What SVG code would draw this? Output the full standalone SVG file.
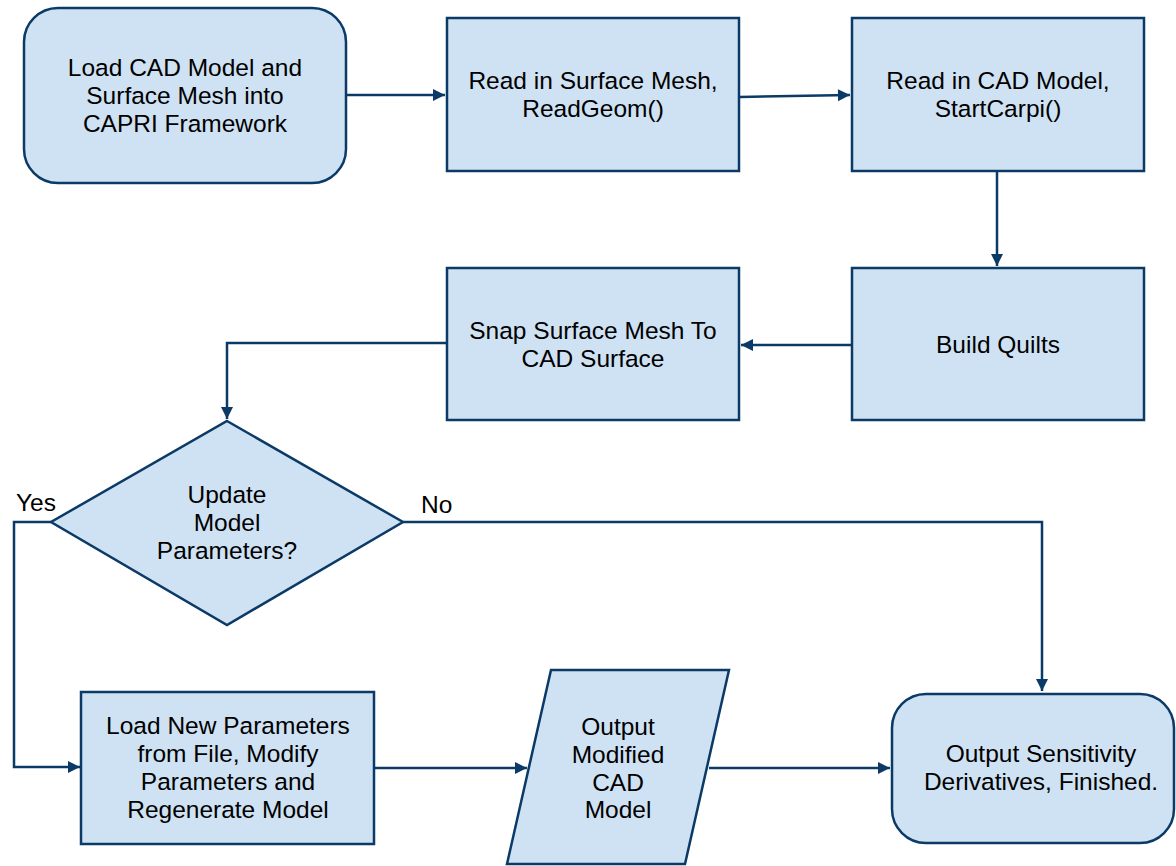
<svg xmlns="http://www.w3.org/2000/svg" width="1176" height="866" viewBox="0 0 1176 866">
<style>
.n{fill:#cfe2f3;stroke:#0b3a66;stroke-width:2.5}
.t{font-family:"Liberation Sans",Arial,sans-serif;font-size:24.5px;fill:#000;text-anchor:middle}
.l{font-family:"Liberation Sans",Arial,sans-serif;font-size:24.5px;fill:#000}
.c{fill:none;stroke:#0b3a66;stroke-width:2.5}
</style>
<defs>
<marker id="ah" viewBox="0 0 10 10" refX="10" refY="5" markerWidth="15" markerHeight="12" markerUnits="userSpaceOnUse" orient="auto">
<path d="M0,0L10,5L0,10Z" fill="#0b3a66"/>
</marker>
</defs>
<rect width="1176" height="866" fill="#fff"/>
<g id="connectors">
<path class="c" d="M346,95H445" marker-end="url(#ah)"/>
<path class="c" d="M740,97L850,95" marker-end="url(#ah)"/>
<path class="c" d="M997,171V266" marker-end="url(#ah)"/>
<path class="c" d="M852,345H741" marker-end="url(#ah)"/>
<path class="c" d="M447,343H227V419" marker-end="url(#ah)"/>
<path class="c" d="M51,522H14V767H80" marker-end="url(#ah)"/>
<path class="c" d="M403,522H1042V691" marker-end="url(#ah)"/>
<path class="c" d="M374,768H527" marker-end="url(#ah)"/>
<path class="c" d="M709,768H890" marker-end="url(#ah)"/>
<text class="l" x="16" y="511">Yes</text>
<text class="l" x="421" y="513">No</text>
</g>
<g id="load-cad">
<rect class="n" x="24" y="8" width="322" height="175" rx="34"/>
<text class="t" x="185" y="76">Load CAD Model and</text>
<text class="t" x="185" y="104">Surface Mesh into</text>
<text class="t" x="185" y="132">CAPRI Framework</text>
</g>
<g id="read-mesh">
<rect class="n" x="447" y="18" width="292" height="153"/>
<text class="t" x="593" y="89">Read in Surface Mesh,</text>
<text class="t" x="593" y="117">ReadGeom()</text>
</g>
<g id="read-cad">
<rect class="n" x="852" y="18" width="292" height="153"/>
<text class="t" x="998" y="89">Read in CAD Model,</text>
<text class="t" x="998" y="117">StartCarpi()</text>
</g>
<g id="build-quilts">
<rect class="n" x="852" y="268" width="292" height="152"/>
<text class="t" x="998" y="353">Build Quilts</text>
</g>
<g id="snap">
<rect class="n" x="447" y="268" width="292" height="152"/>
<text class="t" x="593" y="339">Snap Surface Mesh To</text>
<text class="t" x="593" y="367">CAD Surface</text>
</g>
<g id="decision">
<path class="n" d="M227,421L403,522L227,625L51,522Z"/>
<text class="t" x="227" y="503">Update</text>
<text class="t" x="227" y="531">Model</text>
<text class="t" x="227" y="559">Parameters?</text>
</g>
<g id="load-params">
<rect class="n" x="81" y="692" width="293" height="152"/>
<text class="t" x="228" y="734">Load New Parameters</text>
<text class="t" x="228" y="762">from File, Modify</text>
<text class="t" x="228" y="790">Parameters and</text>
<text class="t" x="228" y="818">Regenerate Model</text>
</g>
<g id="output-cad">
<path class="n" d="M551,670H729L685,864H507Z"/>
<text class="t" x="618" y="735">Output</text>
<text class="t" x="618" y="763">Modified</text>
<text class="t" x="618" y="791">CAD</text>
<text class="t" x="618" y="818">Model</text>
</g>
<g id="output-sens">
<rect class="n" x="892" y="694" width="282" height="149" rx="34"/>
<text class="t" x="1041" y="762">Output Sensitivity</text>
<text class="t" x="1041" y="790">Derivatives, Finished.</text>
</g>
</svg>
